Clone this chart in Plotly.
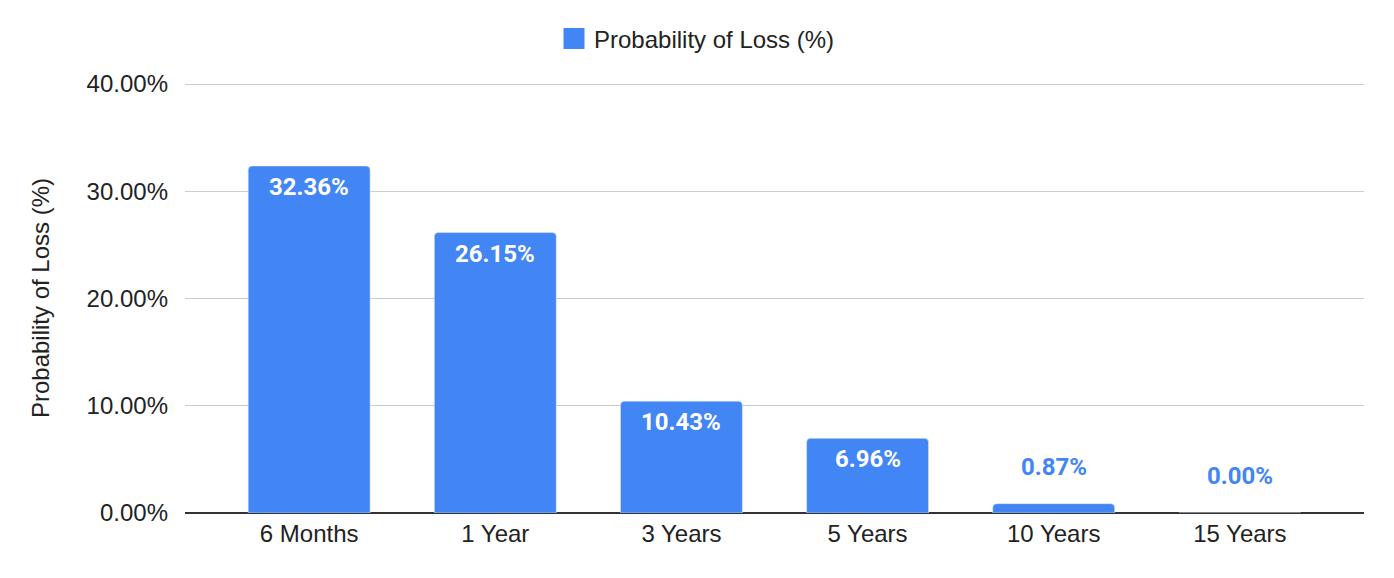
import plotly.graph_objects as go

categories = ["6 Months", "1 Year", "3 Years", "5 Years", "10 Years", "15 Years"]
loss_pct = [32.36, 26.15, 10.43, 6.96, 0.87, 0.00]
series_name = "Probability of Loss (%)"
y_ticks = [0, 10, 20, 30, 40]
y_tick_text = [f"{v:.2f}%" for v in y_ticks]

BLUE = "#4285F4"
FONT = "Liberation Sans, Arial, sans-serif"
FS = 24

fig = go.Figure()
fig.add_trace(go.Bar(
    x=categories, y=loss_pct, marker=dict(color=BLUE), width=0.655,
    showlegend=False, hoverinfo="skip",
))
# legend entry
fig.add_trace(go.Scatter(
    x=[None], y=[None], mode="markers", name=series_name,
    marker=dict(symbol="square", size=16, color=BLUE, line=dict(color=BLUE, width=5)),
))

annotations = []
for c, v in zip(categories, loss_pct):
    inside = v > 3
    annotations.append(dict(
        x=c, y=v, xref="x", yref="y", text=f"{v:.2f}%", showarrow=False,
        yanchor="middle", yshift=-21 if inside else 37,
        font=dict(family="Roboto, sans-serif", size=24, color="white" if inside else BLUE, weight="bold"),
    ))

fig.update_layout(
    width=1394, height=578,
    margin=dict(l=185, r=30, t=83, b=65, autoexpand=False),
    paper_bgcolor="white", plot_bgcolor="white",
    barcornerradius=4,
    font=dict(family=FONT, size=FS, color="#222222"),
    legend=dict(orientation="h", x=0.5, xanchor="center", xref="container",
                y=1 - 39 / 578, yanchor="middle", yref="container",
                font=dict(size=FS, color="#222222"), itemclick=False),
    annotations=annotations,
    xaxis=dict(range=[-0.667, 5.667], showgrid=False, showline=False, zeroline=False,
               ticks="", tickfont=dict(size=FS, color="#222222"), ticklabelstandoff=4),
    yaxis=dict(range=[0, 40.1], tickvals=y_ticks, ticktext=y_tick_text,
               showgrid=True, gridcolor="#cccccc", gridwidth=1,
               zeroline=True, zerolinecolor="#333333", zerolinewidth=2,
               showline=False, ticks="", ticklabelstandoff=16,
               tickfont=dict(size=FS, color="#222222"),
               title=dict(text=series_name, font=dict(size=FS, color="#222222"), standoff=30)),
)

fig.write_html("out.html")
